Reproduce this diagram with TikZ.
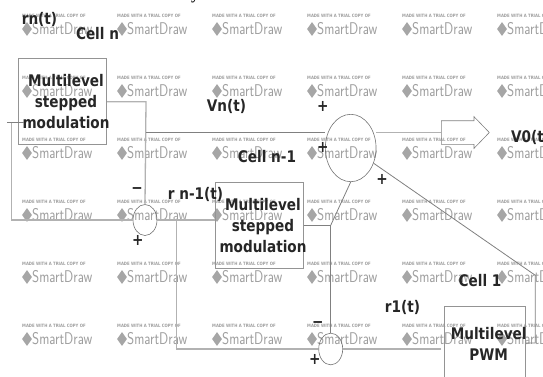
\documentclass[tikz,border=0pt]{standalone}
\usepackage{fontspec}
\setmainfont{DejaVu Sans}[FakeStretch=0.85]
\newfontfamily\titlefont{Liberation Serif}
\usetikzlibrary{shapes.geometric, shapes.arrows}

\begin{document}
\begin{tikzpicture}[
        x=1pt, y=-1pt,
        box/.style={rectangle, draw=black!42, line width=1pt, inner sep=0pt},
        boxtext/.style={align=center, inner sep=0pt, font=\bfseries\fontsize{16}{21}\selectfont, text=black!85},
        summer/.style={ellipse, draw=black!55, line width=0.6pt, inner sep=0pt},
        wire/.style={draw=black!30, line width=1.3pt},
        thinwire/.style={draw=black!50, line width=0.8pt},
        caption/.style={font=\bfseries\fontsize{16}{17}\selectfont, text=black!85, inner sep=0pt},
        sign/.style={font=\bfseries\fontsize{16}{17}\selectfont, text=black!85, inner sep=0pt},
        bigarrow/.style={single arrow, draw=black!50, line width=0.6pt, inner sep=0pt,
                   single arrow head extend=4pt, single arrow tip angle=92,
                   minimum height=48pt, minimum width=31pt},
        stampline/.style={font=\bfseries\fontsize{4.5}{5}\selectfont, text=black!38, inner sep=0pt},
        stampname/.style={font=\sffamily\fontsize{17}{17}\selectfont, text=black!38, inner sep=0pt},
        stampmark/.style={diamond, fill=black!35, minimum width=10pt, minimum height=14pt, inner sep=0pt}
    ]
    \useasboundingbox (0,0) rectangle (543,376);

    % trial stamps
    \foreach \col in {0,...,5}
        \foreach \row in {0,...,5} {
            \node[stampline, anchor=west] (made\col\row) at (22+95*\col,16+62*\row) {MADE WITH A TRIAL COPY OF};
            \node[stampmark] (mark\col\row) at (27+95*\col,29+62*\row) {};
            \node[stampname, anchor=west] (name\col\row) at (32+95*\col,29+62*\row) {\scalebox{0.8}[1]{SmartDraw}};
        }

    % blocks
    \node[box, minimum width=88pt, minimum height=86pt] (celln) at (62.5,101.5) {};
    \node[boxtext] (stepn) at (66,102) {Multilevel\\stepped\\modulation};
    \node[box, minimum width=88pt, minimum height=85.5pt] (cellm) at (259.7,225.3) {};
    \node[boxtext] (stepm) at (263,226) {Multilevel\\stepped\\modulation};
    \node[box, minimum width=80.6pt, minimum height=100pt] (cellone) at (485,356.3) {};
    \node[boxtext] (pwm) at (488.7,344) {Multilevel\\PWM};

    % summers
    \node[summer, minimum width=50.7pt, minimum height=67.4pt] (sumout) at (350.7,148) {};
    \node[summer, minimum width=24pt, minimum height=31pt] (sumn) at (145,220) {};
    \node[summer, minimum width=24pt, minimum height=31.7pt] (sumone) at (330.7,349) {};

    % block arrow
    \node[bigarrow, anchor=tail] (vout) at (441,132.5) {\rule{0pt}{23pt}};

    % top edge of the title
    \node[font=\titlefont\bfseries\fontsize{16}{16}\selectfont, inner sep=0pt, anchor=base] (title) at (195,-0.5) {y};

    % free ends and bends
    \coordinate (in) at (7,122.5);
    \coordinate (tap) at (11.7,122.5);
    \coordinate (outn) at (146,101.7);
    \coordinate (joinn) at (146,132.5);
    \coordinate (refm) at (176.7,220);
    \coordinate (outm) at (330.7,225.3);
    \coordinate (inone) at (441,349);
    \coordinate (outone) at (535.3,343);
    \coordinate (upone) at (535.3,275.3);

    % wires
    \draw[thinwire] (in) -- (24,122.5);
    \draw[wire] (tap) -- (11.7,220) -- (sumn.west);
    \draw[wire] (sumn.east) -- (cellm.west |- sumn.east);
    \draw[wire] (celln.east |- outn) -- (outn) -- (sumn.north);
    \draw[thinwire] (joinn) -- (sumout.west |- joinn);
    \draw[wire] (sumout.east |- joinn) -- (vout.tail);
    \draw[wire] (refm) -- (176.7,349) -- (sumone.west);
    \draw[wire] (sumone.east) -- (inone);
    \draw[thinwire] (cellm.east |- outm) -- (outm) -- (sumone.north);
    \draw[thinwire] (outm) -- (sumout.south);
    \draw[thinwire] (cellone.east |- outone) -- (outone) -- (upone) -- (373.7,163.3);

    % labels
    \node[caption] (rn) at (39.5,19) {rn(t)};
    \node[caption] (celllabeln) at (97.5,34) {Cell n};
    \node[caption] (vn) at (226.5,106) {Vn(t)};
    \node[caption] (celllabelm) at (267,157) {Cell n-1};
    \node[caption] (rm) at (195.5,194) {r n-1(t)};
    \node[caption, anchor=west] (vo) at (511,137) {V0(t)};
    \node[caption] (celllabelone) at (480,281) {Cell 1};
    \node[caption] (rone) at (402.5,307) {r1(t)};

    % signs
    \node[sign] (plusa) at (322.7,106.7) {+};
    \node[sign] (plusb) at (322.7,147) {+};
    \node[sign] (plusc) at (382,179) {+};
    \node[sign] (minusn) at (137,191) {−};
    \node[sign] (plusn) at (137.7,240) {+};
    \node[sign] (minusone) at (317.7,325) {−};
    \node[sign] (plusone) at (314.7,359) {+};

    \end{tikzpicture}
\end{document}
